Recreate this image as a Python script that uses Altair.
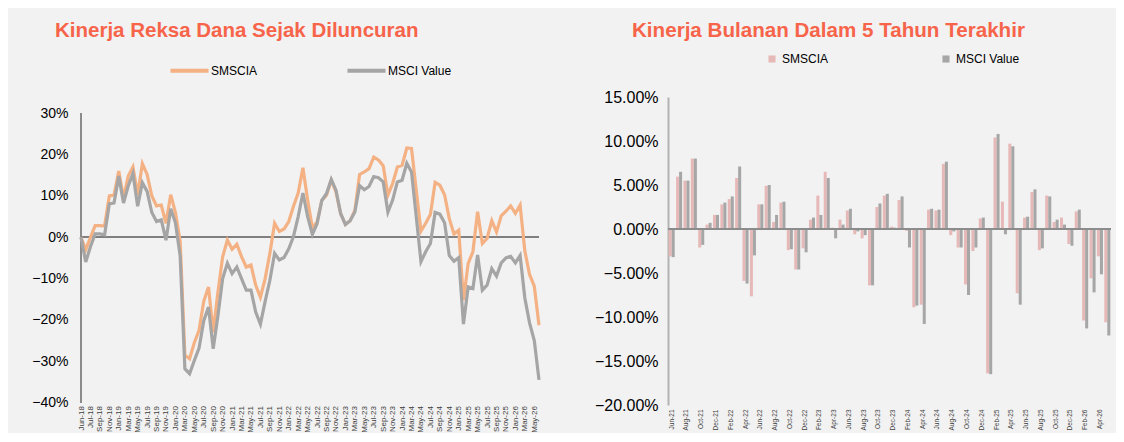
import json
import altair as alt
import pandas as pd

# ---------------- data: cumulative performance since launch (percent) ----------------
line_labels = ["Jun-18", "Jul-18", "Sep-18", "Nov-18",
               "Jan-19", "Mar-19", "May-19", "Jul-19", "Sep-19", "Nov-19",
               "Jan-20", "Mar-20", "May-20", "Jul-20", "Sep-20", "Nov-20",
               "Jan-21", "Mar-21", "May-21", "Jul-21", "Sep-21", "Nov-21",
               "Jan-22", "Mar-22", "May-22", "Jul-22", "Sep-22", "Nov-22",
               "Jan-23", "Mar-23", "May-23", "Jul-23", "Sep-23", "Nov-23",
               "Jan-24", "Mar-24", "May-24", "Jul-24", "Sep-24", "Nov-24",
               "Jan-25", "Mar-25", "May-25", "Jul-25", "Sep-25", "Nov-25",
               "Jan-26", "Mar-26", "May-26"]

smscia_cum = [0, -3, 0, 2.8, 2.8, 2.7, 10, 10.2, 16, 9.5,
              14.8, 17, 10.3, 17.8, 15.2, 10, 7.6, 7.8, 3.4, 10.3,
              6, -1, -28.5, -29.4, -25.5, -22.5, -15.5, -12, -23, -13.3,
              -4.7, -0.7, -2.9, -1.7, -4.7, -7.2, -6.7, -11.6, -14.5, -10,
              -3.9, 3.4, 1.4, 2, 3.8, 7.5, 10.7, 16.8, 9, 2.3,
              3.7, 8.9, 10.2, 13.8, 11.0, 5.7, 3.1, 4.0, 6.5, 15.2,
              15.8, 16.6, 19.4, 18.7, 17.3, 10.2, 13.0, 17.0, 17.4, 21.6,
              21.5, 11.4, 1.5, 3.4, 5.5, 13.3, 12.6, 10.3, 4.5, 0.8,
              1.7, -15.2, -6.3, -3.5, 6.2, -1.5, -0.3, 4, 1.3, 5.2,
              6.3, 7.6, 5.8, 7.8, -3.3, -9, -11.8, -21.3]

msci_cum = [0, -6, -2.3, 0.8, 0.8, 0.6, 8.1, 8.3, 14.8, 8.3,
            12.4, 15.4, 7.5, 13.2, 11.1, 6, 3.8, 4.2, -0.7, 6.9,
            3.5, -4.5, -31.8, -33, -29.8, -26.8, -20.2, -16.9, -27, -19,
            -10, -6.3, -8.8, -7.2, -10, -12.8, -12.8, -18.1, -21, -15.5,
            -10.4, -3.9, -5.5, -4.9, -2.8, 0.2, 5, 10.7, 5, 0.7,
            3.3, 8.9, 10.6, 14.0, 11.4, 5.7, 3.1, 4.0, 6.1, 12.5,
            11.5, 12.3, 14.7, 14.4, 13.4, 6.1, 9.0, 13.4, 13.8, 17.9,
            15.8, 5, -5.9, -3.5, -1.5, 6, 5.6, 3.5, -4.4, -5.8,
            -4.9, -21, -12, -12.4, -4.3, -12.8, -11.6, -7.6, -9.4, -6.2,
            -5, -4.6, -6.2, -4.4, -14.7, -20.7, -25, -34.5]

# ---------------- data: monthly performance, last 5 years (percent) ----------------
bar_months = ["Jun-21", "Jul-21", "Aug-21", "Sep-21", "Oct-21", "Nov-21", "Dec-21",
              "Jan-22", "Feb-22", "Mar-22", "Apr-22", "May-22", "Jun-22", "Jul-22",
              "Aug-22", "Sep-22", "Oct-22", "Nov-22", "Dec-22",
              "Jan-23", "Feb-23", "Mar-23", "Apr-23", "May-23", "Jun-23", "Jul-23",
              "Aug-23", "Sep-23", "Oct-23", "Nov-23", "Dec-23",
              "Jan-24", "Feb-24", "Mar-24", "Apr-24", "May-24", "Jun-24", "Jul-24",
              "Aug-24", "Sep-24", "Oct-24", "Nov-24", "Dec-24",
              "Jan-25", "Feb-25", "Mar-25", "Apr-25", "May-25", "Jun-25", "Jul-25",
              "Aug-25", "Sep-25", "Oct-25", "Nov-25", "Dec-25",
              "Jan-26", "Feb-26", "Mar-26", "Apr-26", "May-26"]

smscia_month = [-3.1, 5.95, 5.5, 8.0, -2.1, 0.5, 1.6,
                2.8, 3.4, 5.8, -5.9, -7.65, 2.8, 4.9,
                0.8, 3.0, -2.4, -4.6, -2.2,
                1.06, 3.8, 6.5, 0.15, 1.06, 2.1, -0.6,
                -1.06, -6.4, 2.5, 3.8, 0.27,
                3.3, -0.2, -8.9, -8.6, 2.2, 2.1, 7.4,
                -0.7, -2.1, -6.3, -2.5, 1.2,
                -16.4, 10.4, 3.1, 9.7, -7.3, 1.3, 4.2,
                -2.4, 3.8, 0.8, 1.3, -1.7,
                2.0, -10.4, -5.6, -3.1, -10.6]

msci_month = [-3.2, 6.5, 5.5, 8.0, -1.8, 0.7, 1.6,
              3.0, 3.7, 7.1, -6.2, -3.0, 2.8, 5.0,
              1.6, 3.1, -2.3, -4.6, -2.65,
              1.3, 1.6, 5.8, -1.06, 0.5, 2.3, -0.27,
              -0.7, -6.4, 2.9, 4.0, 0.15,
              3.7, -2.1, -8.7, -10.8, 2.3, 2.2, 7.65,
              -0.27, -2.1, -7.5, -2.1, 1.3,
              -16.5, 10.8, -0.6, 9.4, -8.6, 1.4, 4.5,
              -2.2, 3.7, 1.06, 0.5, -1.9,
              2.2, -11.3, -7.2, -5.15, -12.1]

series = ["SMSCIA", "MSCI Value"]
line_colors = ["#F4B183", "#A5A5A5"]
bar_colors = ["#E6B9B8", "#A6A6A6"]
title_color = "#F7644A"
FONT = "Liberation Sans"

left_ticks = [-0.4, -0.3, -0.2, -0.1, 0, 0.1, 0.2, 0.3]
left_top = 0.3394          # headroom above the 30% tick (plot shares its top with the right panel)
right_ticks = [-0.2, -0.15, -0.1, -0.05, 0, 0.05, 0.1, 0.15]

n = len(smscia_cum)
assert len(msci_cum) == n
assert len(smscia_month) == len(bar_months) == len(msci_month)

df_line = pd.DataFrame({
    "idx": list(range(n)) * 2,
    "value": [v / 100 for v in smscia_cum] + [v / 100 for v in msci_cum],
    "series": [series[0]] * n + [series[1]] * n,
})
m = len(bar_months)
df_bar = pd.DataFrame({
    "month": bar_months * 2,
    "value": [v / 100 for v in smscia_month] + [v / 100 for v in msci_month],
    "series": [series[0]] * m + [series[1]] * m,
})

tick_idx = [2 * k for k in range(len(line_labels))]
label_expr = json.dumps(line_labels) + "[round(datum.value/2)]"

# ---------------- left chart ----------------
lx_scale = alt.Scale(domain=[0, n - 1], nice=False, zero=False)
lx_axis = alt.Axis(values=tick_idx, labelExpr=label_expr, labelAngle=-90,
                   labelFontSize=8, labelColor="#404040", labelFont=FONT,
                   labelOverlap=False, labelFlush=False, labelPadding=3,
                   domain=False, ticks=False, grid=False, title=None)
ly_scale = alt.Scale(domain=[left_ticks[0], left_top], nice=False)
ly_axis = alt.Axis(values=left_ticks, format=".0%",
                   labelFontSize=14, labelColor="#000000", labelFont=FONT,
                   labelPadding=13, domain=False, ticks=False, grid=False, title=None)

left_lines = alt.Chart(df_line).mark_line(strokeWidth=3.2).encode(
    x=alt.X("idx:Q", scale=lx_scale, axis=lx_axis),
    y=alt.Y("value:Q", scale=ly_scale, axis=ly_axis),
    color=alt.Color("series:N", sort=series,
                    scale=alt.Scale(domain=series, range=line_colors),
                    legend=alt.Legend(title=None, orient="none", legendX=87, legendY=-48,
                                      direction="horizontal", symbolType="stroke",
                                      symbolSize=1450, symbolStrokeWidth=4,
                                      labelFontSize=12, labelFont=FONT, labelColor="#000000",
                                      labelOffset=0, columnPadding=81)),
)
left_axis_line = alt.Chart(df_line).mark_rule(color="#8c8c8c", strokeWidth=1.2).encode(
    x=alt.XDatum(0, type="quantitative", scale=lx_scale, axis=lx_axis),
    y=alt.YDatum(left_ticks[0], type="quantitative", scale=ly_scale, axis=ly_axis),
    y2=alt.Y2Datum(left_ticks[-1]))
left_zero = alt.Chart(df_line).mark_rule(color="#7f7f7f", strokeWidth=1.3).encode(
    y=alt.YDatum(0, type="quantitative", scale=ly_scale, axis=ly_axis))

left = alt.layer(left_axis_line, left_zero, left_lines).properties(
    width=458, height=305.6,
    title=alt.TitleParams("Kinerja Reksa Dana Sejak Diluncuran", anchor="start",
                          frame="group", dx=-26, offset=8, fontSize=20.5, font=FONT,
                          fontWeight="bold", color=title_color),
)

# ---------------- right chart ----------------
ry_scale = alt.Scale(domain=[right_ticks[0], right_ticks[-1]], nice=False)
ry_axis = alt.Axis(values=right_ticks, format=".2%",
                   labelFontSize=16, labelColor="#000000", labelFont=FONT,
                   labelPadding=10, domain=True, domainColor="#b3b3b3",
                   domainWidth=2, ticks=False, grid=False, title=None)

right_bars = alt.Chart(df_bar).mark_bar().encode(
    x=alt.X("month:N", sort=bar_months,
            scale=alt.Scale(paddingInner=0.18, paddingOuter=0.09),
            axis=alt.Axis(values=bar_months[::2], labelAngle=-90, labelFontSize=6.5,
                          labelColor="#404040", labelFont=FONT, labelPadding=4,
                          labelOverlap=False, domain=False, ticks=False, grid=False,
                          title=None)),
    xOffset=alt.XOffset("series:N", sort=series,
                        scale=alt.Scale(paddingInner=0, paddingOuter=0)),
    y=alt.Y("value:Q", scale=ry_scale, axis=ry_axis),
    color=alt.Color("series:N", sort=series,
                    scale=alt.Scale(domain=series, range=bar_colors),
                    legend=alt.Legend(title=None, orient="none", legendX=98, legendY=-44,
                                      direction="horizontal", symbolType="square",
                                      symbolSize=50, symbolStrokeWidth=0,
                                      labelFontSize=12, labelFont=FONT, labelColor="#000000",
                                      labelOffset=4, columnPadding=111)),
)
right_zero = alt.Chart(df_bar).mark_rule(color="#8c8c8c", strokeWidth=2).encode(
    y=alt.YDatum(0, type="quantitative", scale=ry_scale, axis=ry_axis))

right = alt.layer(right_bars, right_zero).properties(
    width=443, height=308,
    title=alt.TitleParams("Kinerja Bulanan Dalam 5 Tahun Terakhir", anchor="start",
                          frame="group", dx=-36, offset=11, fontSize=20.6, font=FONT,
                          fontWeight="bold", color=title_color),
)

chart = alt.hconcat(left, right, spacing=48).resolve_scale(
    color="independent").properties(
    background="#f2f2f2",
    padding={"left": 23, "top": 12, "right": 4, "bottom": 0},
).configure_view(stroke=None)

chart.save("out.html", embed_options={"renderer": "svg", "actions": False})
